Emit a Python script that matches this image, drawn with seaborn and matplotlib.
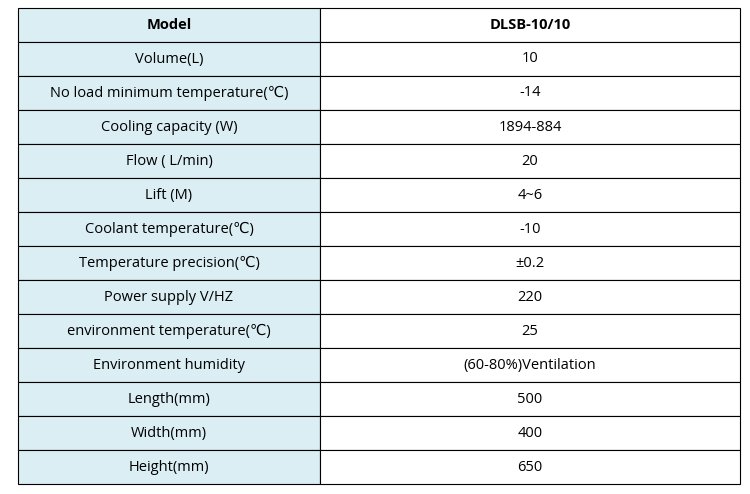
import matplotlib.pyplot as plt
import matplotlib.patches as mpatches
import seaborn as sns

header = ["Model", "DLSB-10/10"]
params = ["Volume(L)", "No load minimum temperature(\u2103)", "Cooling capacity (W)",
          "Flow ( L/min)", "Lift (M)", "Coolant temperature(\u2103)",
          "Temperature precision(\u2103)", "Power supply V/HZ",
          "environment temperature(\u2103)", "Environment humidity",
          "Length(mm)", "Width(mm)", "Height(mm)"]
values = ["10", "-14", "1894-884", "20", "4~6", "-10", "\u00b10.2", "220", "25",
          "(60-80%)Ventilation", "500", "400", "650"]

sns.set_theme(style="white")
plt.rcParams["font.family"] = ["Open Sans", "DejaVu Sans"]

fig = plt.figure(figsize=(7.5, 4.94), dpi=100)
ax = fig.add_axes([0, 0, 1, 1])
ax.set_xlim(0, 750)
ax.set_ylim(494, 0)
ax.axis("off")

x0, xm, x1 = 18, 320, 740
top, rh = 8, 34
blue = "#dbeef4"

rows = [header] + list(zip(params, values))
for i, (a, b) in enumerate(rows):
    y = top + i * rh
    ax.add_patch(mpatches.Rectangle((x0, y), xm - x0, rh, facecolor=blue,
                                    edgecolor="black", linewidth=0.8))
    ax.add_patch(mpatches.Rectangle((xm, y), x1 - xm, rh, facecolor="white",
                                    edgecolor="black", linewidth=0.8))
    w = "bold" if i == 0 else "normal"
    ax.text((x0 + xm) / 2, y + rh / 2, a, ha="center", va="center",
            fontsize=10.5, fontweight=w, color="black")
    ax.text((xm + x1) / 2, y + rh / 2, b, ha="center", va="center",
            fontsize=10.5, fontweight=w, color="black")

fig.savefig("out.png", dpi=100)
